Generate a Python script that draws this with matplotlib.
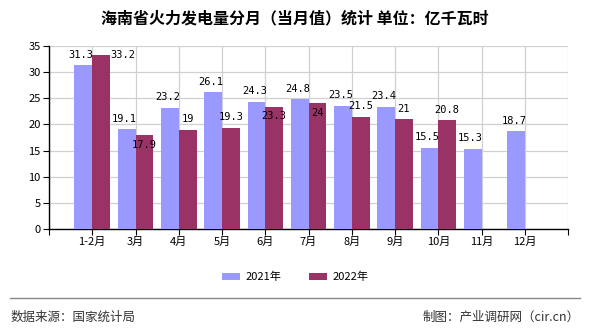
import numpy as np
import matplotlib
matplotlib.use('Agg')
import matplotlib.pyplot as plt
from matplotlib.lines import Line2D

plt.rcParams['font.family'] = ['Noto Sans CJK SC', 'DejaVu Sans']

months = ['1-2月', '3月', '4月', '5月', '6月', '7月', '8月', '9月', '10月', '11月', '12月']
vals_2021 = [31.3, 19.1, 23.2, 26.1, 24.3, 24.8, 23.5, 23.4, 15.5, 15.3, 18.7]
vals_2022 = [33.2, 17.9, 19, 19.3, 23.3, 24, 21.5, 21, 20.8]
yticks = [0, 5, 10, 15, 20, 25, 30, 35]

c21 = '#9999FF'
c22 = '#993366'


def fmt(v):
    return f'{v:g}'


fig = plt.figure(figsize=(5.9, 3.3), dpi=100)
ax = fig.add_axes([0.083, 0.306, 0.88, 0.555])

x = np.arange(len(months))
x2 = np.arange(len(vals_2022))
w = 0.41
ax.bar(x - w / 2, vals_2021, w, color=c21, zorder=3, label='2021年')
ax.bar(x2 + w / 2, vals_2022, w, color=c22, zorder=3, label='2022年')

# value labels (2022 labels dodge the 2021 ones when values are close)
for i, v in enumerate(vals_2021):
    ax.annotate(fmt(v), (i - w / 2 - 0.05, v), xytext=(0, 4), textcoords='offset points',
                ha='center', va='bottom', fontsize=7.5, family='DejaVu Sans Mono', zorder=4)
for i, v in enumerate(vals_2022):
    diff = v - vals_2021[i]
    if 0 < diff < 2:
        xy, off, va = (i + w / 2 + 0.5, v), (0, 0), 'center'
    elif abs(diff) < 1.5:
        xy, off, va = (i + w / 2, v), (0, -3), 'top'
    else:
        xy, off, va = (i + w / 2, v), (0, 4), 'bottom'
    ax.annotate(fmt(v), xy, xytext=off, textcoords='offset points',
                ha='center', va=va, fontsize=7.5, family='DejaVu Sans Mono', zorder=4)

ax.set_xlim(-1, len(months))
ax.set_ylim(0, 35)
ax.set_yticks(yticks)
ax.set_xticks(np.arange(-1, len(months) + 1))
ax.set_xticklabels([''] + months + [''], fontsize=8)
ax.tick_params(axis='y', labelsize=8, length=4, direction='out', pad=2)
ax.tick_params(axis='x', length=4, direction='out', pad=2)
ax.grid(True, color='#d0d0d0', linewidth=0.9, zorder=0)
for s in ['top', 'right']:
    ax.spines[s].set_visible(False)
for s in ['left', 'bottom']:
    ax.spines[s].set_color('black')
    ax.spines[s].set_linewidth(1)

fig.text(0.5, 0.945, '海南省火力发电量分月（当月值）统计 单位：亿千瓦时',
         ha='center', va='center', fontsize=11.5, fontweight='bold')

fig.legend(loc='center', bbox_to_anchor=(0.5, 0.16), ncol=2, frameon=False,
           fontsize=8, handlelength=1.6, handleheight=0.7, columnspacing=2.5, handletextpad=0.5)

fig.add_artist(Line2D([0.017, 0.983], [0.097, 0.097], color='#888888', linewidth=1))
fig.text(0.017, 0.04, '数据来源：国家统计局', ha='left', va='center', fontsize=9, color='#333333')
fig.text(0.983, 0.04, '制图：产业调研网（cir.cn）', ha='right', va='center', fontsize=9, color='#333333')

fig.savefig('out.png', dpi=100)
